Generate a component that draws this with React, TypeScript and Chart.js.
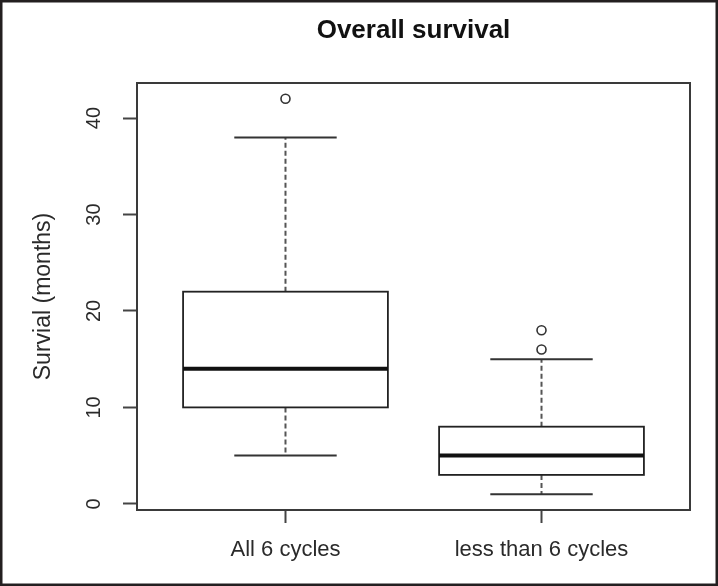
import React, { useEffect, useRef } from "react";
import { Chart, registerables } from "chart.js";

Chart.register(...registerables);

const chartTitle = "Overall survival";
const yAxisTitle = "Survial (months)";
const groups = ["All 6 cycles", "less than 6 cycles"];
const groupPositions = [1, 2];
const lowerWhisker = [5, 1];
const q1 = [10, 3];
const median = [14, 5];
const q3 = [22, 8];
const upperWhisker = [38, 15];
const outlierValues = [[42], [16, 18]];
const yTicks = [0, 10, 20, 30, 40];
const xMin = 0.42;
const xMax = 2.58;
const yMin = -0.64;
const yMax = 43.64;

const BOX_HALF = 0.4;
const CAP_HALF = 0.2;

const boxPlugin = {
  id: "rBoxplot",
  afterDatasetsDraw(chart: any) {
    const { ctx, chartArea, scales } = chart;
    const xs = scales.x;
    const ys = scales.y;
    ctx.save();
    ctx.strokeStyle = "#3a3a3a";
    ctx.lineWidth = 2;
    ctx.strokeRect(chartArea.left, chartArea.top, chartArea.right - chartArea.left, chartArea.bottom - chartArea.top);

    groupPositions.forEach((gx, i) => {
      const xl = xs.getPixelForValue(gx - BOX_HALF);
      const xr = xs.getPixelForValue(gx + BOX_HALF);
      const xc = xs.getPixelForValue(gx);
      const cl = xs.getPixelForValue(gx - CAP_HALF);
      const cr = xs.getPixelForValue(gx + CAP_HALF);
      const yq1 = ys.getPixelForValue(q1[i]);
      const yq3 = ys.getPixelForValue(q3[i]);
      const ymed = ys.getPixelForValue(median[i]);
      const ylo = ys.getPixelForValue(lowerWhisker[i]);
      const yhi = ys.getPixelForValue(upperWhisker[i]);

      ctx.strokeStyle = "#555";
      ctx.lineWidth = 2;
      ctx.setLineDash([5, 3]);
      ctx.beginPath();
      ctx.moveTo(xc, yq3);
      ctx.lineTo(xc, yhi);
      ctx.moveTo(xc, yq1);
      ctx.lineTo(xc, ylo);
      ctx.stroke();
      ctx.setLineDash([]);

      ctx.strokeStyle = "#333";
      ctx.lineWidth = 2;
      ctx.beginPath();
      ctx.moveTo(cl, yhi);
      ctx.lineTo(cr, yhi);
      ctx.moveTo(cl, ylo);
      ctx.lineTo(cr, ylo);
      ctx.stroke();

      ctx.strokeStyle = "#222";
      ctx.lineWidth = 1.8;
      ctx.strokeRect(xl, yq3, xr - xl, yq1 - yq3);

      ctx.strokeStyle = "#111";
      ctx.lineWidth = 4;
      ctx.beginPath();
      ctx.moveTo(xl, ymed);
      ctx.lineTo(xr, ymed);
      ctx.stroke();
    });

    ctx.restore();
  },
  afterDraw(chart: any) {
    const { ctx, chartArea, scales } = chart;
    const ys = scales.y;
    ctx.save();
    ctx.fillStyle = "#111";
    ctx.font = "bold 26px 'Liberation Sans', Arial, sans-serif";
    ctx.textAlign = "center";
    ctx.textBaseline = "alphabetic";
    ctx.fillText(chartTitle, (chartArea.left + chartArea.right) / 2, 38);

    ctx.fillStyle = "#2a2a2a";
    ctx.font = "20px 'Liberation Sans', Arial, sans-serif";
    ys.ticks.forEach((t: any) => {
      const y = ys.getPixelForValue(t.value);
      ctx.save();
      ctx.translate(100, y);
      ctx.rotate(-Math.PI / 2);
      ctx.textAlign = "center";
      ctx.textBaseline = "alphabetic";
      ctx.fillText(String(t.value), 0, 0);
      ctx.restore();
    });

    ctx.strokeStyle = "#231f20";
    ctx.lineWidth = 2.5;
    ctx.strokeRect(1.25, 1.25, chart.width - 2.5, chart.height - 2.5);
    ctx.restore();
  },
};

export default function App() {
  const ref = useRef<HTMLCanvasElement | null>(null);
  useEffect(() => {
    document.body.style.margin = "0";
    document.body.style.background = "#ffffff";
    const outlierData: { x: number; y: number }[] = [];
    outlierValues.forEach((vals, i) => {
      vals.forEach((v) => outlierData.push({ x: groupPositions[i], y: v }));
    });
    const chart = new Chart(ref.current as HTMLCanvasElement, {
      type: "scatter",
      data: {
        datasets: [
          {
            label: "Outliers",
            data: outlierData,
            pointRadius: 4.5,
            pointBorderWidth: 1.6,
            pointBackgroundColor: "rgba(255,255,255,1)",
            pointBorderColor: "#333",
            borderColor: "#333",
            backgroundColor: "#fff",
          },
        ],
      },
      options: {
        responsive: false,
        animation: false,
        layout: { padding: { left: 0, top: 83, right: 28, bottom: 0 } },
        plugins: {
          legend: { display: false },
          tooltip: { enabled: false },
          title: { display: false },
        },
        scales: {
          x: {
            type: "linear",
            min: xMin,
            max: xMax,
            offset: false,
            border: { display: false },
            grid: {
              display: true,
              drawOnChartArea: false,
              drawTicks: true,
              tickLength: 13,
              tickColor: "#444",
              tickWidth: 2,
            },
            afterBuildTicks: (scale: any) => {
              scale.ticks = groupPositions.map((v) => ({ value: v }));
            },
            afterFit: (scale: any) => {
              scale.height = 76;
            },
            ticks: {
              autoSkip: false,
              maxRotation: 0,
              minRotation: 0,
              padding: 14,
              color: "#2a2a2a",
              font: { family: "'Liberation Sans', Arial, sans-serif", size: 22 },
              callback: (value: any) => {
                const idx = groupPositions.indexOf(Number(value));
                return idx >= 0 ? groups[idx] : "";
              },
            },
          },
          y: {
            type: "linear",
            min: yMin,
            max: yMax,
            border: { display: false },
            grid: {
              display: true,
              drawOnChartArea: false,
              drawTicks: true,
              tickLength: 14,
              tickColor: "#444",
              tickWidth: 2,
            },
            afterBuildTicks: (scale: any) => {
              scale.ticks = yTicks.map((v) => ({ value: v }));
            },
            afterFit: (scale: any) => {
              scale.width = 137;
            },
            ticks: { display: false },
            title: {
              display: true,
              text: yAxisTitle,
              color: "#2a2a2a",
              font: { family: "'Liberation Sans', Arial, sans-serif", size: 23 },
              padding: { top: 30, bottom: 0 },
            },
          },
        },
      },
      plugins: [boxPlugin],
    });
    return () => chart.destroy();
  }, []);
  return (
    <div style={{ position: "fixed", left: 0, top: 0, width: 718, height: 586, background: "#fff" }}>
      <canvas ref={ref} width={718} height={586} style={{ display: "block" }} />
    </div>
  );
}
